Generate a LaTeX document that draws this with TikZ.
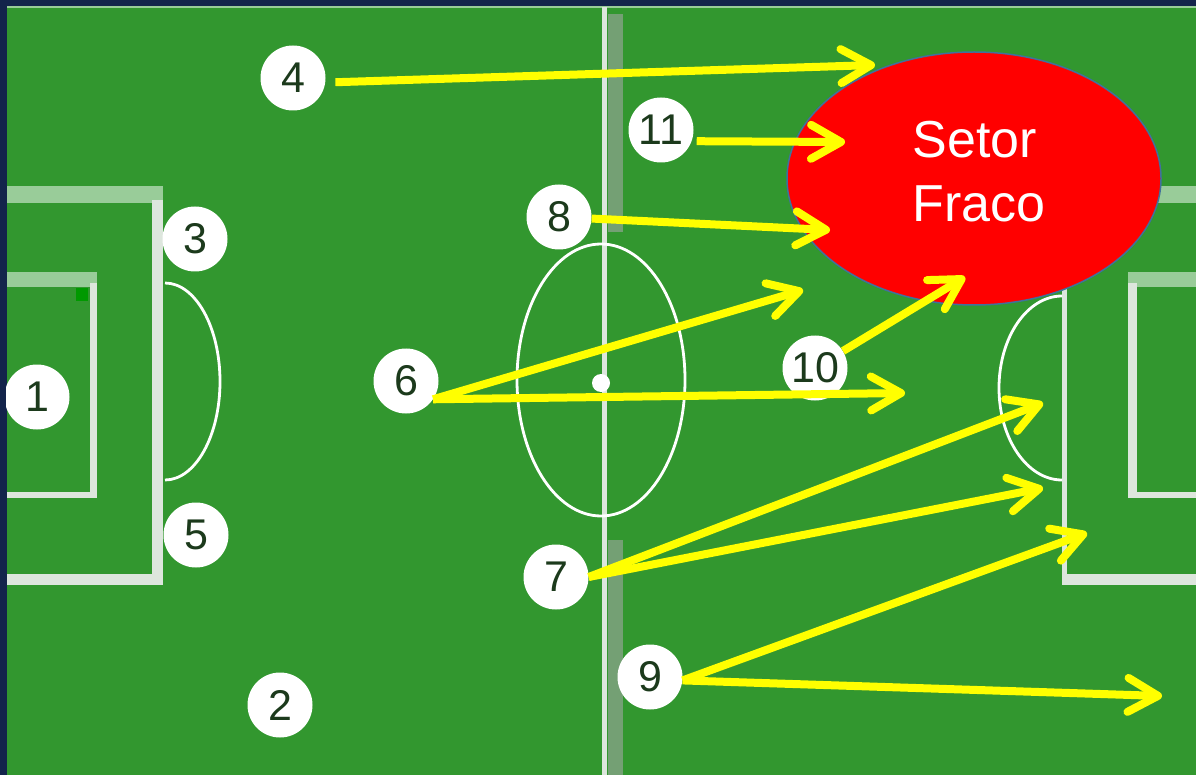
\documentclass[tikz,border=0pt]{standalone}
\usepackage{fontspec}
\setmainfont{Liberation Sans}
\usepackage{tikz}
\usetikzlibrary{arrows.meta,shapes.geometric}
\definecolor{navy}{HTML}{13244B}
\definecolor{pitch}{HTML}{32972F}
\definecolor{paleline}{HTML}{99CC99}
\definecolor{chalk}{HTML}{DDE6DD}
\definecolor{bandgray}{HTML}{74A074}
\definecolor{spot}{HTML}{009900}
\definecolor{passyellow}{HTML}{FFFF00}
\definecolor{weakred}{HTML}{FF0000}
\definecolor{rim}{HTML}{41719C}
\definecolor{numcol}{HTML}{1C3A1C}

\begin{document}
\begin{tikzpicture}[
        x=1pt, y=-1pt,
        player/.style={
            circle, fill=white,
            minimum size=65pt, inner sep=0pt,
            text=numcol,
            font=\fontsize{43}{43}\selectfont
        },
        fieldline/.style={draw=white, line width=2.8pt},
        pass/.style={draw=passyellow, line width=8pt,
            -{Straight Barb[length=30pt, width=34pt, round]}},
        weak/.style={
            ellipse, draw=rim, line width=1.5pt, fill=weakred,
            minimum width=374pt, minimum height=253pt,
            inner sep=0pt, text=white, align=left,
            text depth=14pt,
            font=\fontsize{52}{64}\selectfont
        }
    ]
    \useasboundingbox (0,0) rectangle (1196,775);

    % Pitch
    \fill[navy] (0,0) rectangle (1196,775);
    \fill[pitch] (7,7) rectangle (1196,775);
    \fill[paleline] (7,6) rectangle (1196,8.5);

    % Halfway line
    \fill[bandgray] (608,14) rectangle (623,232);
    \fill[bandgray] (608,540) rectangle (623,775);
    \fill[chalk] (602,7) rectangle (607,775);
    \draw[fieldline] (601,380) ellipse [x radius=84pt, y radius=136pt];
    \fill[white] (601,383) circle [radius=9pt];

    % Left area
    \fill[paleline] (7,186) rectangle (163,203);
    \fill[chalk] (152,200) rectangle (163,585);
    \fill[chalk] (7,574) rectangle (163,585);
    \fill[paleline] (7,272) rectangle (97,287);
    \fill[chalk] (90,283) rectangle (97,498);
    \fill[chalk] (7,492) rectangle (97,498);
    \fill[spot] (76,288) rectangle (88,301);
    \draw[fieldline] (165,283) arc [start angle=90, end angle=-90, x radius=55pt, y radius=98.5pt];

    % Right area
    \fill[paleline] (1062,186) rectangle (1196,203);
    \fill[chalk] (1062,200) rectangle (1067,585);
    \fill[chalk] (1062,574) rectangle (1196,585);
    \fill[paleline] (1128,272) rectangle (1196,287);
    \fill[chalk] (1128,283) rectangle (1137,498);
    \fill[chalk] (1128,492) rectangle (1196,498);
    \draw[fieldline] (1062,296) arc [start angle=90, end angle=270, x radius=63pt, y radius=92pt];

    % Weak sector
    \node[weak] (weak) at (974,178.5) {\hspace*{10pt}Setor\\\hspace*{10pt}Fraco};

    % Players
    \node[player] (p1) at (37,397) {1};
    \node[player] (p2) at (280,705) {2};
    \node[player] (p3) at (195,239) {3};
    \node[player] (p4) at (293,78) {4};
    \node[player] (p5) at (196,535) {5};
    \node[player] (p6) at (406,381) {6};
    \node[player] (p7) at (556,577) {7};
    \node[player] (p8) at (559,217) {8};
    \node[player] (p9) at (650,677) {9};
    \node[player] (p10) at (815,368) {10};
    \node[player] (p11) at (661,130) {11};

    % Targets of the passes
    \coordinate (t4) at (875,65);
    \coordinate (t11) at (845,142);
    \coordinate (t8) at (830,230);
    \coordinate (t6a) at (803,290);
    \coordinate (t6b) at (905,393);
    \coordinate (t10) at (965,277);
    \coordinate (t7a) at (1043,403);
    \coordinate (t7b) at (1043,488);
    \coordinate (t9a) at (1087,533);
    \coordinate (t9b) at (1162,696);

    % Passes
    \draw[pass, shorten <=10pt] (p4.-8) -- (t4);
    \draw[pass, shorten <=5pt] (p11.-20) -- (t11);
    \draw[pass] (p8) -- (t8);
    \draw[pass] (p6.-34) -- (t6a);
    \draw[pass] (p6.-34) -- (t6b);
    \draw[pass] (p10) -- (t10);
    \draw[pass] (p7.east) -- (t7a);
    \draw[pass] (p7.east) -- (t7b);
    \draw[pass] (p9.-6) -- (t9a);
    \draw[pass] (p9.-6) -- (t9b);

    % Frame
    \fill[navy] (0,0) rectangle (6,775);
    \fill[navy] (0,0) rectangle (1196,6);
\end{tikzpicture}
\end{document}
